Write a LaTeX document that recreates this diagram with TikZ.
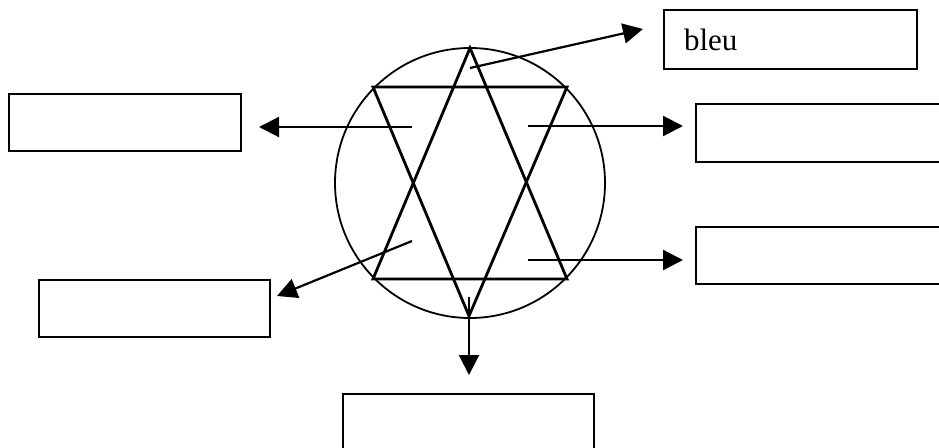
\documentclass[tikz,border=0pt]{standalone}
\usepackage{fontspec}
\setmainfont{Liberation Serif}
\usetikzlibrary{arrows.meta}
\begin{document}
\begin{tikzpicture}[x=1pt,y=-1pt,
  box/.style={draw,line width=2pt,inner sep=0pt,anchor=north west},
  starline/.style={line width=2.8pt,line join=miter},
  conn/.style={line width=2.2pt,-{Triangle[length=20pt,width=20pt]}}]
\useasboundingbox (0,0) rectangle (939,447);
\clip (0,0) rectangle (939,447);
% circle and hexagram
\node[draw,circle,line width=1.8pt,minimum size=270pt,inner sep=0pt] (ring) at (470,183) {};
\coordinate (A) at (470,48);
\coordinate (B) at (373,279);
\coordinate (C) at (567,279);
\coordinate (D) at (373,87);
\coordinate (E) at (567,87);
\coordinate (F) at (469,316);
\draw[starline] (A) -- (B) -- (C) -- cycle;
\draw[starline] (D) -- (E) -- (F) -- cycle;
% boxes
\node[box,minimum width=253pt,minimum height=59pt,text width=213pt,inner xsep=20pt,align=left,
  font=\fontsize{31}{37}\selectfont] (bleu) at (663,9) {bleu};
\node[box,minimum width=232pt,minimum height=57pt] (lt) at (8,93) {};
\node[box,minimum width=300pt,minimum height=58pt] (rt) at (695,103) {};
\node[box,minimum width=300pt,minimum height=57pt] (rb) at (695,226) {};
\node[box,minimum width=231pt,minimum height=57pt] (lb) at (38,279) {};
\node[box,minimum width=251pt,minimum height=80pt] (bt) at (342,393) {};
% connector ends
\coordinate (s1) at (470,68);  \coordinate (t1) at (643,29);
\coordinate (s2) at (412,127); \coordinate (t2) at (259,127);
\coordinate (s3) at (528,126); \coordinate (t3) at (683,126);
\coordinate (s4) at (528,260); \coordinate (t4) at (683,260);
\coordinate (s5) at (412,241); \coordinate (t5) at (277,296);
\coordinate (s6) at (469,297); \coordinate (t6) at (469,375);
\draw[conn] (s1) -- (t1);
\draw[conn] (s2) -- (t2);
\draw[conn] (s3) -- (t3);
\draw[conn] (s4) -- (t4);
\draw[conn] (s5) -- (t5);
\draw[conn] (s6) -- (t6);
\end{tikzpicture}
\end{document}
